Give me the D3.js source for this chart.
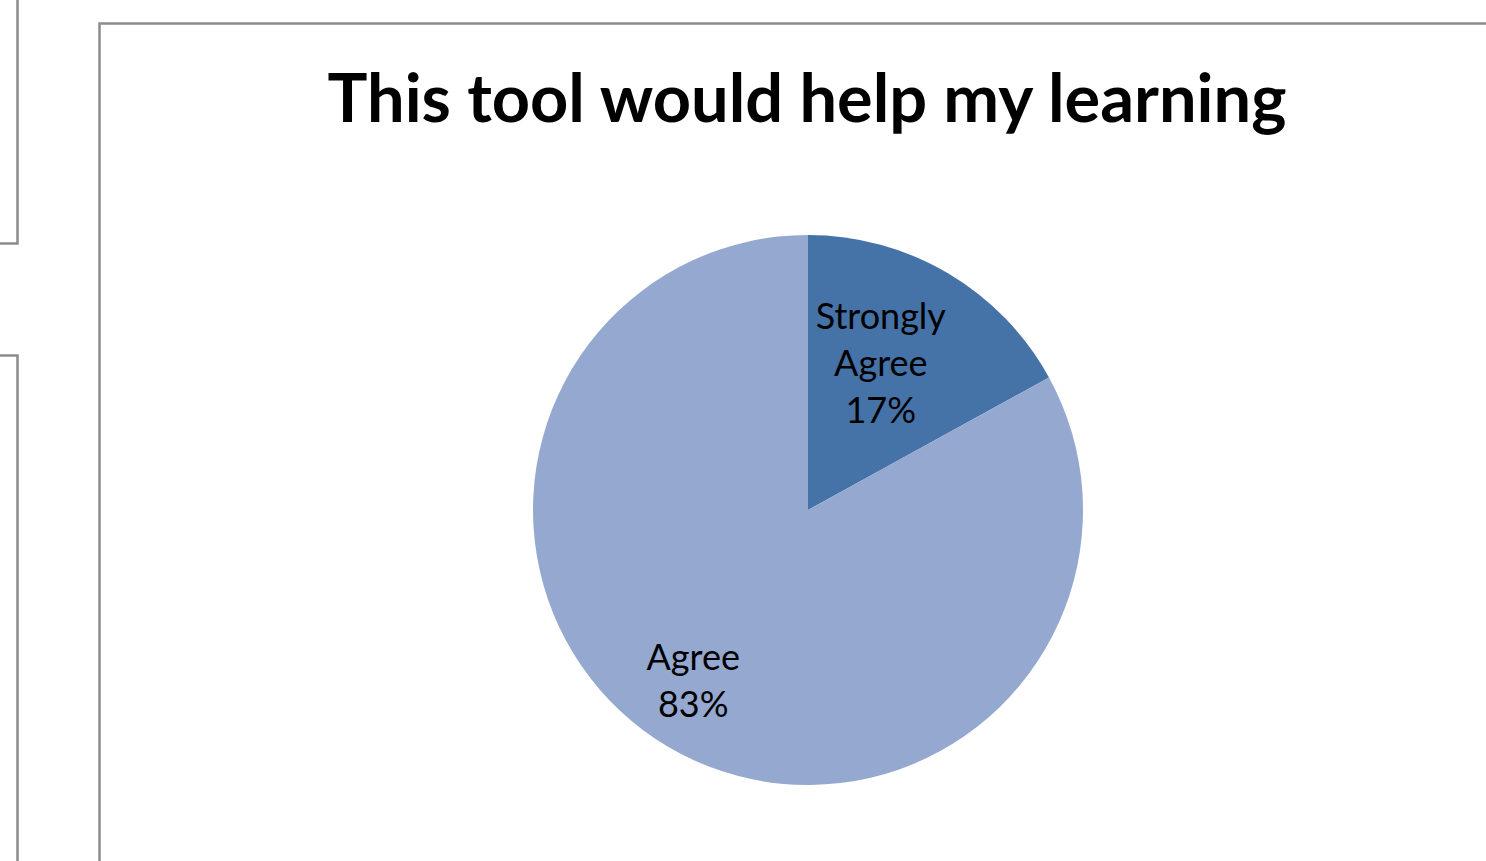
<!DOCTYPE html>
<html>
<head>
<meta charset="utf-8">
<script src="https://cdn.jsdelivr.net/npm/d3@7"></script>
<style>
  body { margin: 0; background: #fff; }
  svg { display: block; }
  text { font-family: Lato, "Open Sans", sans-serif; fill: #000; }
</style>
</head>
<body>
<svg id="chart" width="1486" height="861"></svg>
<script>
// DATA
var title = 'This tool would help my learning';
var categories = ['Strongly Agree', 'Agree'];
var shares = [17, 83];
var labelLines = [['Strongly', 'Agree', '17%'], ['Agree', '83%']];
var sliceColors = ['#4572a7', '#95a9d0'];

var svg = d3.select('#chart');

// frame boxes from the page the chart sits on
var frame = svg.append('g')
    .attr('fill', 'none')
    .attr('stroke', '#8c8c8c')
    .attr('stroke-width', 2.5);
frame.append('path').attr('d', 'M-5,243.5 H17.5 V-5');
frame.append('path').attr('d', 'M-5,355.5 H17.5 V870');
frame.append('path').attr('d', 'M99.5,870 V23.5 H1495');

// title, squeezed to the width seen in the picture
var titleText = svg.append('text')
    .attr('x', 807)
    .attr('y', 122)
    .attr('text-anchor', 'middle')
    .attr('font-weight', 'bold')
    .attr('font-size', 64)
    .text(title);
var w = titleText.node().getComputedTextLength();
titleText.attr('font-size', 64 * 959 / w);

// pie
var cx = 808, cy = 510, radius = 275;
var g = svg.append('g').attr('transform', 'translate(' + cx + ',' + cy + ')');

var color = d3.scaleOrdinal().domain(categories).range(sliceColors);

var pie = d3.pie().sort(null).value(function(d, i){ return shares[i]; });
var arcs = pie(categories);

var arc = d3.arc().innerRadius(0).outerRadius(radius);
var labelArc = d3.arc().innerRadius(radius * 0.67).outerRadius(radius * 0.67);

g.selectAll('path.slice')
    .data(arcs)
    .enter().append('path')
    .attr('class', 'slice')
    .attr('d', arc)
    .attr('fill', function(d){ return color(d.data); });

// labels sit a little down-left of the centroid, like excel does it
var lineH = 47;
var nudgeX = -21, nudgeY = 14;
g.selectAll('text.label')
    .data(arcs)
    .enter().append('text')
    .attr('class', 'label')
    .attr('text-anchor', 'middle')
    .attr('font-size', 36)
    .each(function(d, i){
        var c = labelArc.centroid(d);
        var lines = labelLines[i];
        var t = d3.select(this);
        var x = c[0] + nudgeX;
        var top = c[1] + nudgeY - (lines.length - 1) * lineH / 2 + 11;
        lines.forEach(function(s, j){
            t.append('tspan')
                .attr('x', x)
                .attr('y', top + j * lineH)
                .text(s);
        });
    });
</script>
</body>
</html>
